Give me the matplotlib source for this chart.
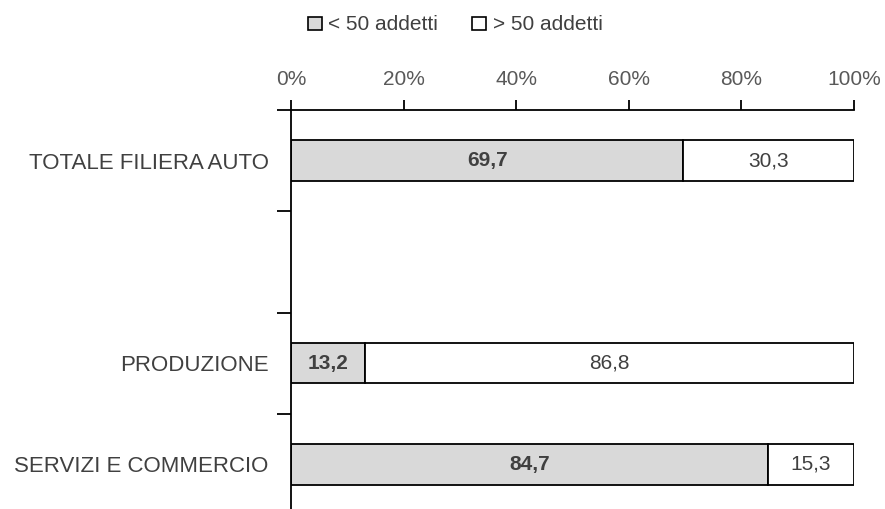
import numpy as np
import matplotlib.pyplot as plt
from matplotlib.patches import Patch

plt.rcParams['font.family'] = ['Liberation Sans', 'DejaVu Sans']

# data
categories = ["TOTALE FILIERA AUTO", "", "PRODUZIONE", "SERVIZI E COMMERCIO"]
small = [69.7, np.nan, 13.2, 84.7]   # < 50 addetti
large = [30.3, np.nan, 86.8, 15.3]   # > 50 addetti
series_labels = ["< 50 addetti", "> 50 addetti"]
xticks = [0, 20, 40, 60, 80, 100]

text_col = '#404040'
fig = plt.figure(figsize=(8.85, 5.09), dpi=100)
ax = fig.add_axes([291/885, 1 - 515/509, 563/885, 405/509])

y = np.arange(len(categories))
ax.barh(y, small, height=0.4, color='#d9d9d9', edgecolor='black', linewidth=1.3)
ax.barh(y, large, left=small, height=0.4, color='white', edgecolor='black', linewidth=1.3)

# value labels
for i in range(len(categories)):
    if np.isnan(small[i]):
        continue
    ax.text(small[i] / 2, y[i], f"{small[i]:.1f}".replace('.', ','), ha='center', va='center',
            fontsize=15, fontweight='bold', color=text_col)
    ax.text(small[i] + large[i] / 2, y[i], f"{large[i]:.1f}".replace('.', ','), ha='center',
            va='center', fontsize=15, color=text_col)

ax.set_xlim(0, 100)
ax.set_ylim(len(categories) - 0.5, -0.5)

# x axis on top
ax.xaxis.tick_top()
ax.set_xticks(xticks)
ax.set_xticklabels([f"{t}%" for t in xticks])
ax.tick_params(axis='x', direction='out', length=7, width=1.3, pad=8,
               labelsize=15, labelcolor='#595959')

# y ticks: labels at centers, marks at boundaries
ax.set_yticks(y)
ax.set_yticklabels(categories)
ax.tick_params(axis='y', length=0, pad=16, labelsize=16, labelcolor=text_col)
ax.set_yticks(np.arange(-0.5, len(categories)), minor=True)
ax.tick_params(axis='y', which='minor', direction='out', length=10, width=1.3)

for s in ['right', 'bottom']:
    ax.spines[s].set_visible(False)
for s in ['top', 'left']:
    ax.spines[s].set_linewidth(1.3)

handles = [Patch(facecolor='#d9d9d9', edgecolor='black', linewidth=1.2),
           Patch(facecolor='white', edgecolor='black', linewidth=1.2)]
fig.legend(handles, series_labels, loc='center', bbox_to_anchor=(455/885, 1 - 25/509),
           ncol=2, frameon=False, fontsize=15, labelcolor=text_col,
           handlelength=0.7, handleheight=0.6, handletextpad=0.3, columnspacing=1.6)

fig.savefig('out.png', dpi=100)
